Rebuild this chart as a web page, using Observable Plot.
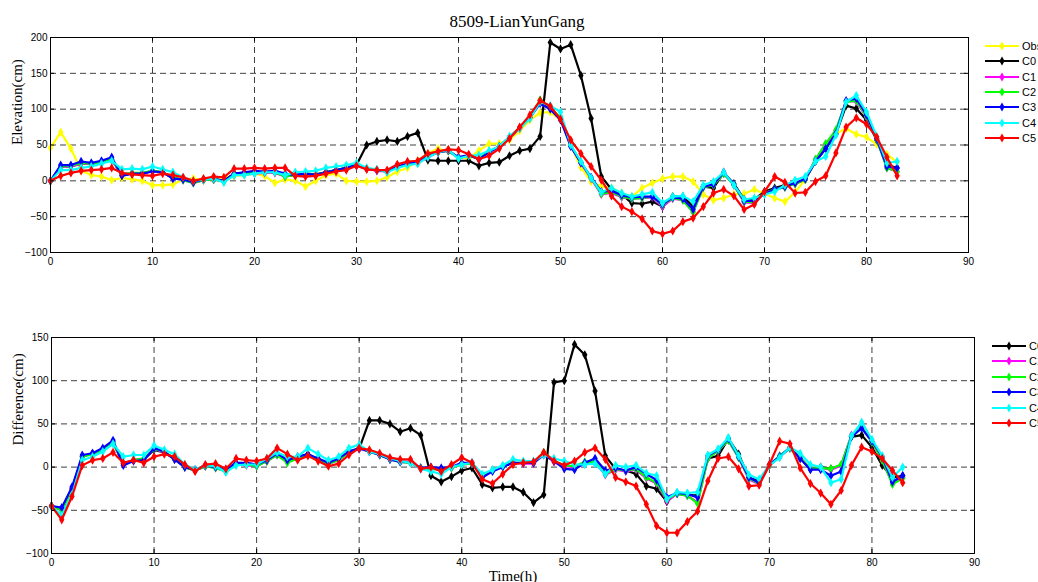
<!DOCTYPE html>
<html>
<head>
<meta charset="utf-8">
<script src="https://cdn.jsdelivr.net/npm/d3@7"></script>
<script src="https://cdn.jsdelivr.net/npm/@observablehq/plot@0.6"></script>
<style>
  html, body { margin: 0; padding: 0; background: #fff; }
  #chart { position: relative; width: 1038px; height: 582px; overflow: hidden; background: #fff; }
  .panel { position: absolute; left: 0; z-index: 0; }
  .title { position: absolute; top: 11px; left: 0; width: 1034px; text-align: center; z-index: 2;
           font-family: "Liberation Serif", "Times New Roman", serif; font-size: 17px; line-height: 21px; color: #000; }
  .legend { position: absolute; z-index: 2; font-family: "Liberation Sans", Arial, sans-serif; font-size: 11px; color: #000; }
  .legend .row { position: absolute; left: 0; height: 12px; white-space: nowrap; display: flex; align-items: center; }
  .legend .row span { margin-left: 3px; }
</style>
</head>
<body>
<div id="chart"></div>
<script>
// Hourly time axis (h)
const hours = d3.range(0, 84);

// Elevation (cm): observation and the six model runs
const obs = [46,68,45,14,8,6,1,4,2,0,-6,-6,-5,2,3,1,3,5,7,8,10,7,-3,2,0,-8,0,8,10,0,
  -1,-1,0,5,13,18,28,38,45,41,33,31,42,52,52,57,70,85,95,96,85,49,19,-1,-8,-10,-17,-22,-10,-3,
  3,6,6,-1,-19,-27,-24,-19,-18,-12,-18,-24,-29,-16,2,28,50,66,73,65,61,51,37,26];
const c0 = [0,20,20,24,24,26,30,8,10,10,14,12,4,2,-2,2,2,0,10,11,12,12,12,8,8,10,9,12,15,18,
  22,50,55,57,55,62,67,29,28,28,28,28,21,25,26,35,42,45,62,193,184,190,147,87,6,-12,-19,-31,-32,-29,
  -36,-22,-22,-36,-8,-10,11,-4,-26,-26,-15,-10,-6,-4,2,27,45,65,105,101,85,57,22,18];
const c1 = [0,19,20,24,24,25,29,9,10,11,13,12,4,1,-3,1,2,-1,8,9,10,11,11,6,8,9,8,11,14,17,
  21,17,14,13,19,23,25,33,40,42,32,35,31,41,47,60,73,88,112,101,87,49,25,3,-19,-17,-23,-25,-24,-23,
  -36,-25,-27,-43,-9,-6,10,-6,-30,-31,-17,-12,-9,-4,2,30,51,70,111,111,89,58,18,13];
const c2 = [0,20,21,25,24,26,30,9,11,11,14,12,5,1,-3,1,2,-1,8,10,11,12,12,6,8,9,8,12,15,18,
  22,17,15,13,19,23,25,34,40,42,32,35,31,41,48,61,74,89,113,102,88,50,26,4,-18,-16,-22,-25,-24,-22,
  -34,-24,-27,-44,-9,-6,10,-6,-29,-30,-17,-12,-9,-4,2,30,52,71,110,112,90,58,18,13];
const c3 = [0,22,22,27,25,28,33,7,10,10,13,12,3,2,-2,2,3,0,10,12,14,13,14,10,8,10,8,12,15,18,
  22,17,15,13,20,24,26,34,40,42,33,36,30,40,48,61,74,88,108,100,85,48,25,5,-15,-14,-20,-23,-22,-22,
  -33,-23,-25,-40,-8,-5,12,-5,-28,-28,-18,-12,-8,-3,3,27,45,66,112,115,92,59,20,18];
const c4 = [0,15,15,18,20,24,28,16,17,16,20,16,12,5,0,2,3,-2,8,8,10,12,12,8,12,13,14,18,20,22,
  25,18,16,12,18,22,24,33,40,43,31,35,36,42,48,62,73,87,110,105,96,50,27,4,-16,-10,-17,-22,-19,-16,
  -31,-22,-21,-29,-6,-1,12,-6,-26,-24,-19,-15,-6,1,6,27,34,64,110,119,96,62,25,27];
const c5 = [0,7,11,14,15,16,18,11,9,8,7,10,8,5,0,3,6,5,17,17,18,17,18,18,7,6,7,10,13,15,
  21,16,15,15,23,27,28,38,41,44,43,37,30,35,45,59,75,92,112,104,86,57,38,20,1,-21,-36,-43,-53,-70,
  -74,-70,-57,-52,-36,-17,-12,-21,-40,-33,-15,6,-2,-17,-16,-1,7,39,75,88,79,61,33,7];

// Difference (cm): model minus observation
const d0 = [-45,-48,-25,12,16,20,29,4,8,9,20,17,9,0,-4,1,0,-4,4,4,3,7,15,7,11,15,9,4,9,18,
  21,54,54,50,41,45,37,-10,-17,-11,-4,-1,-20,-24,-23,-23,-29,-41,-32,98,100,142,130,88,13,-2,-4,-8,-22,-25,
  -40,-30,-32,-33,10,13,33,15,-12,-16,2,12,22,10,-2,0,-2,2,35,37,23,2,-12,-10];
const d1 = [-45,-50,-26,12,16,20,28,4,8,9,21,17,10,0,-4,1,-1,-5,3,2,1,7,14,6,10,14,8,4,8,17,
  21,18,14,9,6,5,-2,-2,-3,-1,3,4,-10,-4,1,5,4,4,16,6,1,0,5,5,-9,-3,-5,-3,-13,-19,
  -39,-31,-33,-41,10,19,31,11,-14,-20,2,13,22,11,-2,-1,-3,2,37,46,29,8,-19,-12];
const d2 = [-45,-50,-26,12,15,20,28,4,8,10,21,18,10,0,-4,1,-1,-5,3,3,1,7,14,5,10,14,8,4,8,17,
  22,18,14,9,6,5,-1,-2,-3,-1,3,4,-10,-4,1,5,5,5,17,7,2,1,6,6,-8,-2,-4,-2,-12,-18,
  -37,-31,-33,-42,10,19,31,11,-13,-19,2,13,22,11,-2,-1,-2,3,36,46,29,8,-20,-13];
const d3v = [-45,-47,-23,14,16,22,31,2,7,8,22,18,9,0,-3,2,0,-3,5,5,3,8,16,8,12,15,10,5,10,18,
  22,18,14,9,6,6,-1,0,-1,0,5,5,-12,-5,0,5,5,5,14,7,-2,-3,5,10,-4,-1,-4,0,-8,-15,
  -35,-30,-31,-35,13,20,33,12,-12,-18,3,12,23,10,-3,-3,-10,-5,35,45,30,12,-17,-10];
const d4 = [-45,-56,-32,8,12,18,27,12,14,14,25,20,15,3,-3,2,1,-6,2,3,3,10,17,12,12,22,15,8,12,22,
  26,18,15,10,7,5,-2,-5,-8,0,3,5,-8,-3,2,9,7,7,14,10,7,3,3,4,-8,2,0,2,-7,-10,
  -37,-29,-30,-29,14,21,34,13,-9,-14,2,11,23,16,3,0,-18,-14,36,52,32,13,-12,0];
const d5 = [-45,-61,-34,2,8,10,17,5,8,5,12,15,12,3,-5,3,4,-2,10,8,7,10,22,15,8,13,7,1,4,14,
  22,20,16,11,9,9,-2,0,-5,3,11,5,-14,-19,-8,3,5,6,17,7,2,7,17,22,9,-12,-17,-22,-43,-68,
  -76,-76,-63,-51,-16,10,12,-2,-22,-21,3,30,27,-1,-19,-30,-43,-27,2,23,18,10,-4,-18];

const elevNames = ["Obs", "C0", "C1", "C2", "C3", "C4", "C5"];
const elevColors = ["#ffff00", "#000000", "#ff00ff", "#00ff00", "#0000ff", "#00ffff", "#ff0000"];
const diffNames = ["C0", "C1", "C2", "C3", "C4", "C5"];
const diffColors = ["#000000", "#ff00ff", "#00ff00", "#0000ff", "#00ffff", "#ff0000"];

const xTicks = [0, 10, 20, 30, 40, 50, 60, 70, 80, 90];
const elevTicks = [-100, -50, 0, 50, 100, 150, 200];
const diffTicks = [-100, -50, 0, 50, 100, 150];

const sans = '"Liberation Sans", Arial, sans-serif';
const serif = '"Liberation Serif", "Times New Roman", serif';

function panel({series, names, colors, yDomain, yTicks, yLabel, xLabel, height, marginTop, marginBottom, marginLeft, marginRight}) {
  const width = 1038;
  const plotW = width - marginLeft - marginRight;
  const plotH = height - marginTop - marginBottom;
  const grid = {stroke: "#000", strokeOpacity: 0.75, strokeWidth: 1, strokeDasharray: "6,4"};
  const seriesMarks = names.flatMap((name, i) => {
    const rows = hours.map((t, j) => ({t, v: series[i][j], name}));
    return [
      Plot.line(rows, {x: "t", y: "v", stroke: colors[i], strokeWidth: 2.2}),
      Plot.dot(rows, {x: "t", y: "v", symbol: "diamond", r: 2.8, fill: colors[i], stroke: "none"})
    ];
  });
  const marks = [
    Plot.ruleX(xTicks, {x: d => d, ...grid}),
    Plot.ruleY(yTicks, {y: d => d, ...grid}),
    ...seriesMarks,
    Plot.frame({stroke: "#000", strokeWidth: 1}),
    // short inward ticks on all four sides
    Plot.tickY(yTicks, {y: d => d, stroke: "#000", insetRight: plotW - 4}),
    Plot.tickY(yTicks, {y: d => d, stroke: "#000", insetLeft: plotW - 4}),
    Plot.tickX(xTicks, {x: d => d, stroke: "#000", insetTop: plotH - 4}),
    Plot.tickX(xTicks, {x: d => d, stroke: "#000", insetBottom: plotH - 4}),
    Plot.axisX(xTicks, {tickSize: 0, tickPadding: 5, label: null, fontSize: 10}),
    Plot.axisY(yTicks, {tickSize: 0, tickPadding: 3, label: null, fontSize: 10}),
    Plot.text([yLabel], {frameAnchor: "left", dx: -33, rotate: -90, fontFamily: serif, fontSize: 15})
  ];
  if (xLabel) {
    marks.push(Plot.text([xLabel], {frameAnchor: "bottom", dy: 27, fontFamily: serif, fontSize: 15}));
  }
  return Plot.plot({
    width, height, marginTop, marginBottom, marginLeft, marginRight,
    x: {domain: [0, 90]},
    y: {domain: yDomain},
    style: {fontFamily: sans, fontSize: "10px", color: "#000", background: "transparent", overflow: "visible"},
    marks
  });
}

function legend(container, names, colors, left, topPx, step) {
  const lg = container.append("div").attr("class", "legend").style("left", left + "px").style("top", topPx + "px");
  names.forEach((name, i) => {
    const row = lg.append("div").attr("class", "row").style("top", (i * step - 6) + "px");
    const sw = row.append("svg").attr("width", 34).attr("height", 10);
    sw.append("line").attr("x1", 0).attr("x2", 34).attr("y1", 5).attr("y2", 5)
      .attr("stroke", colors[i]).attr("stroke-width", 2.2);
    sw.append("path").attr("d", d3.symbol(d3.symbolDiamond, 24)()).attr("transform", "translate(17,5)")
      .attr("fill", colors[i]);
    row.append("span").text(name);
  });
}

const chart = d3.select("#chart");

const elevationPanel = panel({
  series: [obs, c0, c1, c2, c3, c4, c5], names: elevNames, colors: elevColors,
  yDomain: [-100, 200], yTicks: elevTicks, yLabel: "Elevation(cm)",
  height: 270, marginTop: 37, marginBottom: 18, marginLeft: 50, marginRight: 70
});
chart.append("div").attr("class", "panel").style("top", "0px").node().appendChild(elevationPanel);

const differencePanel = panel({
  series: [d0, d1, d2, d3v, d4, d5], names: diffNames, colors: diffColors,
  yDomain: [-100, 150], yTicks: diffTicks, yLabel: "Difference(cm)", xLabel: "Time(h)",
  height: 282, marginTop: 37, marginBottom: 29, marginLeft: 51, marginRight: 64
});
chart.append("div").attr("class", "panel").style("top", "300px").node().appendChild(differencePanel);

chart.append("div").attr("class", "title").text("8509-LianYunGang");
legend(chart, elevNames, elevColors, 985, 46, 15.35);
legend(chart, diffNames, diffColors, 992, 346, 15.4);
</script>
</body>
</html>
